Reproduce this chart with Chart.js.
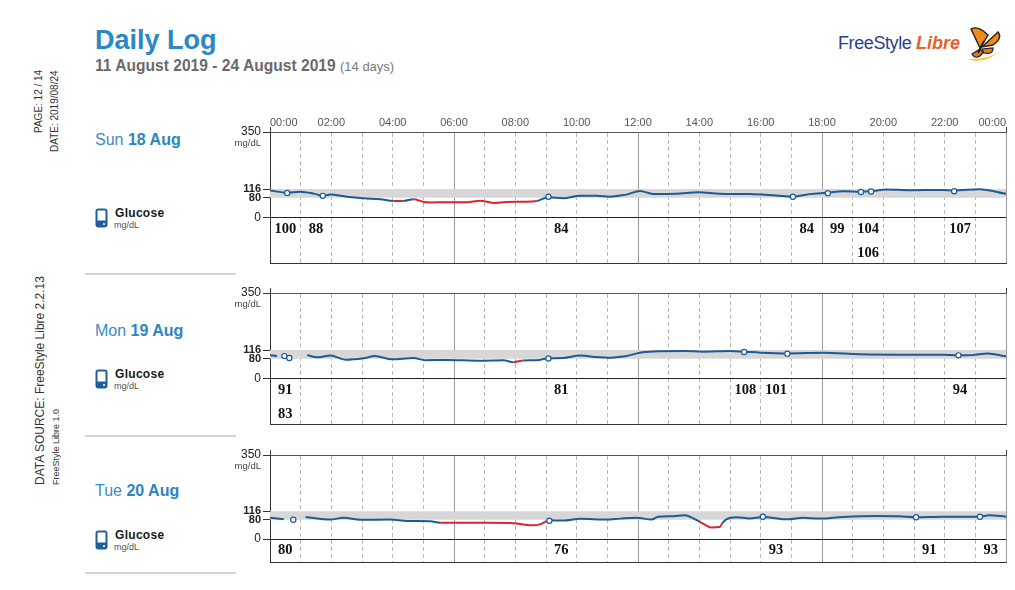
<!DOCTYPE html>
<html>
<head>
<meta charset="utf-8">
<title>Daily Log</title>
<script src="https://cdn.jsdelivr.net/npm/chart.js@4.4.1/dist/chart.umd.min.js"></script>
<style>
  html, body { margin: 0; padding: 0; background: #fff; }
  body { width: 1015px; height: 590px; position: relative; overflow: hidden; font-family: "Liberation Sans", Arial, sans-serif; }
  .abs { position: absolute; white-space: nowrap; }
  .title { left: 95px; top: 27px; font-size: 27px; line-height: 27px; font-weight: bold; color: #2b87c5; }
  .sub { left: 95px; top: 58px; font-size: 15.6px; line-height: 16px; font-weight: bold; color: #6a6a6a; }
  .sub span { font-weight: normal; font-size: 13px; color: #7a7a7a; }
  .vert { writing-mode: vertical-rl; transform: rotate(180deg); color: #333; }
  .day { left: 95px; font-size: 16px; line-height: 16px; color: #3b8bc6; }
  .day b { color: #2d84c2; }
  .gl { left: 115px; font-size: 12px; line-height: 12px; font-weight: bold; color: #1a1a1a; letter-spacing: 0.3px; }
  .unit { left: 114px; font-size: 9px; line-height: 9px; color: #555; }
  .sep { left: 85px; width: 151px; height: 2px; background: #d5d5d5; }
  .logo { left: 838px; top: 33px; font-size: 18px; line-height: 20px; letter-spacing: -0.4px; color: #2b3f8c; }
  .logo i { color: #e5602a; font-weight: bold; letter-spacing: 0; }
  canvas { position: absolute; left: 210px; }
</style>
</head>
<body>

<div class="abs title">Daily Log</div>
<div class="abs sub">11 August 2019 - 24 August 2019 <span>(14 days)</span></div>

<div class="abs logo">FreeStyle <i>Libre</i></div>
<svg class="abs" style="left:963px; top:24px" width="40" height="40" viewBox="0 0 40 40">
  <path d="M3 35 Q20 41 38 27 Q22 37 3 35Z" fill="#f2c81e"/>
  <path d="M17 24 L8 5 Q15 1 25 11 Z" fill="#f08a1c" stroke="#222" stroke-width="1.4"/>
  <path d="M19 23 L35 8 Q40 14 30 21 Z" fill="#f08a1c" stroke="#222" stroke-width="1.4"/>
  <path d="M17 25 L9 30 Q13 37 20 29 Z" fill="#e8761a" stroke="#222" stroke-width="1.2"/>
  <path d="M19 25 L30 24 Q30 31 21 29 Z" fill="#e8761a" stroke="#222" stroke-width="1.2"/>
  <line x1="15" y1="29" x2="21" y2="17" stroke="#222" stroke-width="2"/>
</svg>

<div class="abs vert" style="left:33px; top:70px; height:100px; text-align:end; font-size:10px; line-height:12px;">PAGE: 12 / 14</div>
<div class="abs vert" style="left:49px; top:70px; height:100px; text-align:end; font-size:10px; line-height:12px;">DATE: 2019/08/24</div>
<div class="abs vert" style="left:33px; top:285px; height:200px; font-size:12px; line-height:14px;">DATA SOURCE: FreeStyle Libre 2.2.13</div>
<div class="abs vert" style="left:51px; top:285px; height:200px; font-size:9px; line-height:11px;">FreeStyle Libre 1.0</div>

<!-- left column, one block per day -->
<div class="abs day" style="top:132px">Sun <b>18 Aug</b></div>
<svg class="abs" style="left:95px; top:208px" width="13" height="20" viewBox="0 0 13 20">
  <rect x="0.5" y="0.5" width="12" height="19" rx="3" fill="#1f5e98"/>
  <rect x="2.5" y="2.5" width="8" height="10" fill="#fff"/>
  <circle cx="9" cy="16" r="1.1" fill="#fff"/>
</svg>
<div class="abs gl" style="top:206.5px">Glucose</div>
<div class="abs unit" style="top:220.5px">mg/dL</div>
<div class="abs sep" style="top:273px"></div>

<div class="abs day" style="top:322.5px">Mon <b>19 Aug</b></div>
<svg class="abs" style="left:95px; top:369px" width="13" height="20" viewBox="0 0 13 20">
  <rect x="0.5" y="0.5" width="12" height="19" rx="3" fill="#1f5e98"/>
  <rect x="2.5" y="2.5" width="8" height="10" fill="#fff"/>
  <circle cx="9" cy="16" r="1.1" fill="#fff"/>
</svg>
<div class="abs gl" style="top:368px">Glucose</div>
<div class="abs unit" style="top:382px">mg/dL</div>
<div class="abs sep" style="top:435px"></div>

<div class="abs day" style="top:482.5px">Tue <b>20 Aug</b></div>
<svg class="abs" style="left:95px; top:530px" width="13" height="20" viewBox="0 0 13 20">
  <rect x="0.5" y="0.5" width="12" height="19" rx="3" fill="#1f5e98"/>
  <rect x="2.5" y="2.5" width="8" height="10" fill="#fff"/>
  <circle cx="9" cy="16" r="1.1" fill="#fff"/>
</svg>
<div class="abs gl" style="top:529px">Glucose</div>
<div class="abs unit" style="top:543px">mg/dL</div>
<div class="abs sep" style="top:572px"></div>

<canvas id="sunChart" width="805" height="169" style="top:104px"></canvas>
<canvas id="monChart" width="805" height="151" style="top:283px"></canvas>
<canvas id="tueChart" width="805" height="127" style="top:445px"></canvas>

<script>
// limites (mg/dL)
const LOW = 70;
const TARGET_LOW = 80;
const TARGET_HIGH = 116;
const yTicks = [0, 80, 116, 350];
const hourTicks = [0, 1, 2, 3, 4, 5, 6, 7, 8, 9, 10, 11, 12, 13, 14, 15, 16, 17, 18, 19, 20, 21, 22, 23, 24];
const timeLabels = ['00:00', '02:00', '04:00', '06:00', '08:00', '10:00', '12:00',
                    '14:00', '16:00', '18:00', '20:00', '22:00', '00:00'];

// Sun 18 Aug
const sunHours = [0, 0.56, 0.99, 1.43, 1.72, 1.97, 2.51, 3.05, 3.6, 4.03,
                  4.36, 4.68, 5.01, 5.23, 5.77, 6.42, 6.85, 7.29, 7.72, 8.26,
                  8.7, 9.08, 9.56, 10.11, 10.65, 11.08, 11.41, 11.63, 12.06, 12.49,
                  13.25, 13.96, 14.66, 15.64, 16.51, 17.05, 17.59, 18.19, 18.68, 19.27,
                  19.6, 20.09, 20.85, 21.93, 22.31, 23.13, 24];
const sunGlucose = [110, 101, 105, 97, 88, 93, 84, 78, 74, 67,
                    67, 74, 63, 61, 62, 62, 68, 59, 63, 64,
                    67, 82, 78, 88, 88, 84, 89, 93, 108, 96,
                    97, 103, 97, 95, 89, 85, 95, 101, 107, 105,
                    107, 114, 111, 112, 110, 115, 96];
const sunScanHours = [0.56, 1.72, 9.08, 17.05, 18.19, 19.27, 19.6, 22.31];
const sunScanValues = [100, 88, 84, 84, 99, 104, 106, 107];

// Mon 19 Aug
const monHours = [0, 0.23, 0.7, 1.21, 1.54, 1.97, 2.46, 3.05, 3.43, 3.98,
                  4.68, 5.06, 5.77, 6.85, 7.61, 7.94, 8.26, 8.7, 9.08, 9.56,
                  10.11, 10.65, 11.03, 11.41, 11.63, 12.06, 12.49, 13.5, 14.1, 15.0,
                  15.46, 16.0, 16.87, 18.03, 19.22, 20.85, 21.93, 22.45, 22.9, 23.4, 24];
const monGlucose = [95, 91, null, 95, 86, 93, 76, 82, 91, 78,
                    83, 74, 75, 72, 74, 66, 73, 74, 82, 83,
                    93, 87, 84, 88, 91, 105, 110, 112, 109, 112,
                    109, 105, 102, 105, 99, 97, 97, 94, 95, 102, 90];
const monScanHours = [0.47, 0.63, 9.08, 15.46, 16.87, 22.45];
const monScanValues = [91, 83, 81, 108, 101, 94];

// Tue 20 Aug
const tueHours = [0, 0.45, 0.8, 1.16, 1.97, 2.4, 2.95, 3.92, 4.47, 5.23,
                  5.55, 6.31, 7.18, 7.94, 8.54, 8.81, 9.11, 9.56, 10.11, 10.98,
                  11.41, 11.95, 12.44, 12.66, 13.15, 13.52, 13.69, 14.01, 14.15, 14.39,
                  14.66, 14.75, 14.88, 15.21, 15.64, 16.07, 16.89, 17.38, 17.92, 18.68,
                  19.76, 20.52, 21.07, 21.93, 23.15, 23.45, 24];
const tueGlucose = [89, 82, null, 92, 81, 89, 80, 81, 75, 74,
                    68, 68, 68, 66, 57, 61, 78, 77, 84, 81,
                    85, 89, 81, 93, 95, 99, 93, 72, 62, 48,
                    50, 66, 82, 91, 86, 92, 82, 89, 85, 92,
                    96, 95, 91, 93, 93, 99, 93];
const tueScanHours = [0.76, 9.11, 16.07, 21.07, 23.15];
const tueScanValues = [80, 76, 93, 91, 93];

const BLUE = '#1b5b97';
const RED = '#d8262e';
const FONT = '"Liberation Sans", Arial, sans-serif';

function drawPanel(canvasId, hours, glucose, scanHours, scanValues, yMin, showTimes) {
    const line = hours.map((h, i) => ({ x: h, y: glucose[i] }));
    const scans = scanHours.map((h, i) => ({ x: h, y: scanValues[i] }));
    const band = [{ x: 0, y: TARGET_HIGH }, { x: 24, y: TARGET_HIGH }];

    // valores das leituras por baixo do zero, uma coluna por hora
    const scanText = {
        id: 'scanText',
        afterDraw(chart) {
            const { ctx, scales: { x, y } } = chart;
            const used = {};
            ctx.save();
            ctx.font = 'bold 14.5px "Liberation Serif", "Times New Roman", serif';
            ctx.fillStyle = '#111';
            ctx.textAlign = 'center';
            ctx.textBaseline = 'middle';
            scanHours.forEach((h, i) => {
                const slot = Math.floor(h);
                const row = used[slot] || 0;
                used[slot] = row + 1;
                ctx.fillText(String(scanValues[i]), x.getPixelForValue(slot + 0.5),
                             y.getPixelForValue(0) + 11.5 + row * 24);
            });
            ctx.font = '9.5px ' + FONT;
            ctx.fillStyle = '#444';
            ctx.textAlign = 'right';
            ctx.fillText('mg/dL', y.right - 9, y.getPixelForValue(350) + 11.5);
            ctx.restore();
        }
    };

    new Chart(document.getElementById(canvasId), {
        type: 'line',
        data: {
            datasets: [{
                type: 'scatter',
                data: scans,
                xAxisID: 'x',
                order: 0,
                pointRadius: 2.6,
                pointBackgroundColor: '#fff',
                pointBorderColor: BLUE,
                pointBorderWidth: 1.2
            }, {
                data: line,
                xAxisID: 'x',
                order: 1,
                borderColor: BLUE,
                borderWidth: 2,
                pointRadius: 0,
                cubicInterpolationMode: 'monotone',
                spanGaps: false,
                segment: {
                    borderColor: c => ((c.p0.parsed.y + c.p1.parsed.y) / 2 < LOW ? RED : BLUE)
                }
            }, {
                data: band,
                xAxisID: 'x',
                order: 2,
                borderWidth: 0,
                pointRadius: 0,
                fill: { value: TARGET_LOW },
                backgroundColor: '#d7d7d7'
            }]
        },
        options: {
            responsive: false,
            animation: false,
            events: [],
            layout: { padding: { left: 5, right: 9, top: 0, bottom: 8 } },
            plugins: { legend: { display: false }, tooltip: { enabled: false } },
            scales: {
                x: {
                    type: 'linear',
                    position: 'top',
                    min: 0,
                    max: 24,
                    afterBuildTicks: s => { s.ticks = hourTicks.map(v => ({ value: v })); },
                    afterFit: s => { s.height = showTimes ? 28 : 10; },
                    ticks: {
                        display: showTimes,
                        autoSkip: false,
                        maxRotation: 0,
                        align: 'inner',
                        padding: -3,
                        color: '#555',
                        font: { family: FONT, size: 11 },
                        callback: v => (v % 2 === 0 ? timeLabels[v / 2] : '')
                    },
                    grid: {
                        lineWidth: 1,
                        tickLength: 5,
                        color: c => {
                            const v = c.tick ? c.tick.value : 0;
                            if (v === 0) return '#333';
                            if (v === 24) return '#999';
                            return v % 6 === 0 ? '#9a9a9a' : '#b8b8b8';
                        },
                        tickColor: c => {
                            const v = c.tick ? c.tick.value : 0;
                            return (v === 0 || v === 24) ? '#444' : 'transparent';
                        }
                    },
                    border: {
                        color: '#555',
                        dash: c => ((c.tick && c.tick.value % 6 !== 0) ? [4, 3] : [])
                    }
                },
                x2: {
                    type: 'linear',
                    position: 'bottom',
                    min: 0,
                    max: 24,
                    ticks: { display: false },
                    grid: { display: false },
                    border: { color: '#333' },
                    afterFit: s => { s.height = 0; }
                },
                y: {
                    min: yMin,
                    max: 350,
                    afterBuildTicks: s => { s.ticks = yTicks.map(v => ({ value: v })); },
                    afterFit: s => { s.width = 55; },
                    ticks: {
                        autoSkip: false,
                        padding: 2,
                        color: '#222',
                        font: c => {
                            const bold = c.tick && (c.tick.value === TARGET_LOW || c.tick.value === TARGET_HIGH);
                            return { family: FONT, size: bold ? 11 : 12, weight: bold ? 'bold' : 'normal' };
                        }
                    },
                    grid: {
                        color: c => (c.tick && c.tick.value === 0 ? '#222' : 'transparent'),
                        tickColor: '#333',
                        tickLength: 7
                    },
                    border: { color: '#333' }
                }
            }
        },
        plugins: [scanText]
    });
}

drawPanel('sunChart', sunHours, sunGlucose, sunScanHours, sunScanValues, -191, true);
drawPanel('monChart', monHours, monGlucose, monScanHours, monScanValues, -191, false);
drawPanel('tueChart', tueHours, tueGlucose, tueScanHours, tueScanValues, -99, false);
</script>
</body>
</html>
